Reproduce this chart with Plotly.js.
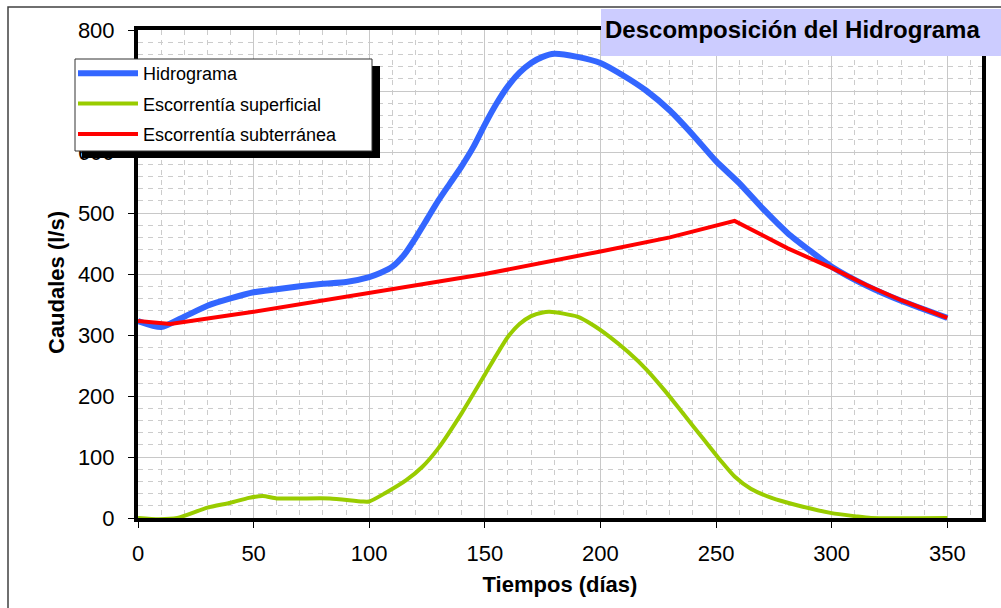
<!DOCTYPE html>
<html><head><meta charset="utf-8">
<script src="https://cdn.plot.ly/plotly-3.0.1.min.js"></script>
<style>html,body{margin:0;padding:0;background:#fff}</style>
</head><body><div id="chart" style="width:1001px;height:608px"></div>
<script>
// ---- data ----
const tHidrograma = [0,10,20,30,40,50,60,70,80,90,100,105,110,115,120,125,130,135,140,145,150,155,160,165,170,175,180,190,200,210,220,230,240,250,260,270,281,290,300,315,330,350];
const vHidrograma = [323,313,330,348,360,370,375,380,384,387,395,402,412,431,459,490,521,549,577,608,645,679,708,730,746,756,761,756,746,725,700,668,628,585,549,508,467,440,412,381,356,328];

const tSuperficial = [0,9,17,30,40,48,54,60,70,83,97,100,107,116,123,130,140,150,155,160,165,170,175,178,184,190,196,204,212,220,228,236,244,252,258,265,274,285,300,310,317,350];
const vSuperficial = [0,-2,0,17,25,33,36,32,32,32,27,27,41,62,84,115,172,235,267,297,318,331,337,338,335,330,318,297,272,243,208,170,132,94,68,48,33,21,8,3,0,0];

const tSubterranea = [0,14,50,100,126,150,200,230,258,281,300,315,330,350];
const vSubterranea = [323,318,338,369,385,400,437,460,487,442,410,382,357,328];

const seriesNames = ['Hidrograma','Escorrentía superficial','Escorrentía subterránea'];
const xTickVals = [0,50,100,150,200,250,300,350];
const yTickVals = [0,100,200,300,400,500,600,700,800];

// ---- layout helpers (plot area in px) ----
const L = 138, R = 982, T = 30, B = 518;
const px2x = p => (p - L) / (R - L);
const px2y = p => (B - p) / (B - T);
const FONT = 'Liberation Sans, Arial, sans-serif';

const traces = [
  {x: tHidrograma, y: vHidrograma, name: seriesNames[0], type: 'scatter', mode: 'lines',
   line: {color: '#3366ff', width: 6, shape: 'spline', smoothing: 0.6}, legendgroup: 'a'},
  {x: tSuperficial, y: vSuperficial, name: seriesNames[1], type: 'scatter', mode: 'lines',
   line: {color: '#99cc00', width: 4, shape: 'spline', smoothing: 0.6}, legendgroup: 'b'},
  {x: tSubterranea, y: vSubterranea, name: seriesNames[2], type: 'scatter', mode: 'lines',
   line: {color: '#ff0000', width: 4}, legendgroup: 'c'}
];

const layout = {
  width: 1001, height: 608,
  margin: {l: L, r: 1001 - R, t: T, b: 608 - B, pad: 0},
  paper_bgcolor: '#ffffff', plot_bgcolor: '#ffffff',
  font: {family: FONT, color: '#000'},
  title: {text: 'Descomposición del Hidrograma', font: {family: FONT, size: 24, weight: 700, color: '#000'},
          xref: 'container', yref: 'container', x: 605/1001, xanchor: 'left', y: 1 - 30/608, yanchor: 'middle'},
  xaxis: {
    range: [0, 365], tickvals: xTickVals, ticks: 'outside', ticklen: 6, tickwidth: 1, tickcolor: '#000',
    showline: true, linewidth: 4, linecolor: '#000', mirror: true, zeroline: false,
    showgrid: true, gridcolor: '#c8c8c8', gridwidth: 1,
    minor: {dtick: 10, tick0: 0, showgrid: true, gridcolor: '#cccccc', griddash: '5px,5px', gridwidth: 1},
    tickfont: {family: FONT, size: 22, color: '#000'}, ticklabelstandoff: 7,
    title: {text: 'Tiempos (días)', font: {family: FONT, size: 22, weight: 700, color: '#000'}, standoff: 12}
  },
  yaxis: {
    range: [0, 800], tickvals: yTickVals, ticks: 'outside', ticklen: 6, tickwidth: 1, tickcolor: '#000',
    showline: true, linewidth: 4, linecolor: '#000', mirror: true, zeroline: false,
    showgrid: true, gridcolor: '#c8c8c8', gridwidth: 1,
    minor: {dtick: 20, tick0: 0, showgrid: true, gridcolor: '#cccccc', griddash: '5px,5px', gridwidth: 1},
    tickfont: {family: FONT, size: 22, color: '#000'}, ticklabelstandoff: 9
  },
  showlegend: true,
  legend: {
    x: px2x(73), y: px2y(55), xanchor: 'left', yanchor: 'top', xref: 'paper', yref: 'paper',
    bgcolor: 'rgba(0,0,0,0)', borderwidth: 0, itemwidth: 60, tracegroupgap: 4,
    font: {family: FONT, size: 18, color: '#000'}, traceorder: 'grouped'
  },
  annotations: [
    {text: 'Caudales (l/s)', xref: 'paper', yref: 'paper', x: px2x(56), y: px2y(283),
     textangle: -90, showarrow: false, xanchor: 'center', yanchor: 'middle',
     font: {family: FONT, size: 22, weight: 700, color: '#000'}}
  ],
  shapes: [
    {type: 'rect', xref: 'paper', yref: 'paper', x0: px2x(8), x1: px2x(1020), y0: px2y(640), y1: px2y(7),
     line: {color: '#404040', width: 1.5}, fillcolor: 'rgba(0,0,0,0)', layer: 'above'},
    {type: 'rect', xref: 'paper', yref: 'paper', x0: px2x(601), x1: px2x(1010), y0: px2y(56), y1: px2y(9),
     line: {width: 0}, fillcolor: '#ccccff', layer: 'above'},
    {type: 'rect', xref: 'paper', yref: 'paper', x0: px2x(82), x1: px2x(380), y0: px2y(158), y1: px2y(66),
     line: {width: 0}, fillcolor: '#000000', layer: 'above'},
    {type: 'rect', xref: 'paper', yref: 'paper', x0: px2x(75), x1: px2x(372), y0: px2y(151), y1: px2y(59),
     line: {color: '#333333', width: 1}, fillcolor: '#ffffff', layer: 'above'}
  ]
};

Plotly.newPlot('chart', traces, layout, {displayModeBar: false, staticPlot: true});
</script>
</body></html>
